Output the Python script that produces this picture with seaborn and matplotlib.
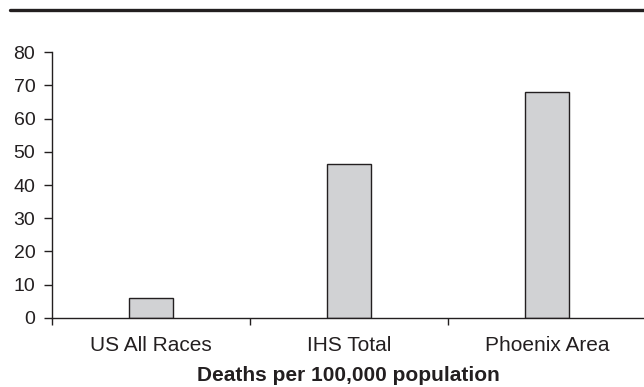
import matplotlib
matplotlib.use("Agg")
import matplotlib.pyplot as plt
import seaborn as sns
import pandas as pd
from matplotlib.lines import Line2D

categories = ["US All Races", "IHS Total", "Phoenix Area"]
values = [6.0, 46.3, 67.9]
y_ticks = [0, 10, 20, 30, 40, 50, 60, 70, 80]
x_label = "Deaths per 100,000 population"

sns.set_theme(style="white")
plt.rcParams["font.family"] = ["Liberation Sans", "DejaVu Sans"]

ink = "#231f20"
df = pd.DataFrame({"cat": categories, "val": values})

fig = plt.figure(figsize=(6.44, 3.87), dpi=100)
W, H = 644, 387
ax = fig.add_axes([52 / W, 1 - 317.7 / H, (644 - 52) / W, (317.7 - 52.3) / H])

sns.barplot(data=df, x="cat", y="val", ax=ax, color="#d1d2d4",
            edgecolor=ink, linewidth=1.0, width=0.227, saturation=1)

ax.set_ylim(0, 80)
ax.set_xlim(-0.5, -0.5 + 592 / 198)
ax.set_yticks(y_ticks)
ax.set_yticklabels([str(t) for t in y_ticks])

# category boundaries as major ticks, labels as minor ticks
ax.set_xticks([-0.5, 0.5, 1.5])
ax.set_xticklabels(["", "", ""])
ax.set_xticks(range(len(categories)), minor=True)
ax.set_xticklabels(categories, minor=True)

ax.tick_params(axis="x", which="major", direction="out", length=5, width=1,
               color=ink, bottom=True)
ax.tick_params(axis="x", which="minor", length=0, pad=13.5, labelsize=15,
               labelcolor=ink, bottom=True)
ax.tick_params(axis="y", direction="out", length=6, width=1, color=ink,
               left=True, pad=6, labelsize=14, labelcolor=ink)

for s in ["top", "right"]:
    ax.spines[s].set_visible(False)
for s in ["left", "bottom"]:
    ax.spines[s].set_color(ink)
    ax.spines[s].set_linewidth(1.0)

ax.set_xlabel(x_label, fontsize=15, fontweight="bold", color=ink, labelpad=7.5)
ax.set_ylabel("")

fig.add_artist(Line2D([10 / W, 1.0], [1 - 9.7 / H, 1 - 9.7 / H],
                      transform=fig.transFigure, color=ink, linewidth=2.4))

fig.savefig("out.png", dpi=100)
